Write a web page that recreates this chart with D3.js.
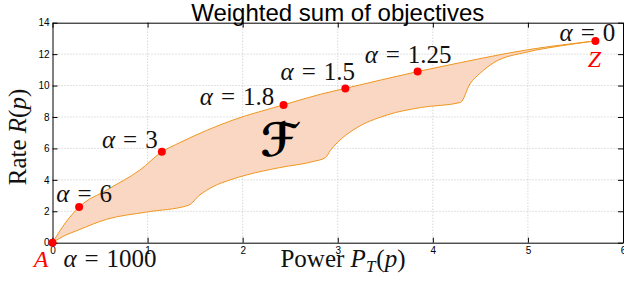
<!DOCTYPE html>
<html>
<head>
<meta charset="utf-8">
<script src="https://cdn.jsdelivr.net/npm/d3@7"></script>
<style>
  body { margin: 0; background: #fff; }
  svg { display: block; }
</style>
</head>
<body>
<div id="chart"></div>
<script>

// upper boundary (weighted sum optimum points) and lower boundary of the feasible set
var power_upper = [0, 0.14, 0.28, 0.57, 0.92, 1.15, 1.34, 1.90, 2.43, 2.82, 3.08, 3.84, 4.29, 4.99, 5.71]
var rate_upper = [0, 1.30, 2.27, 3.35, 4.63, 5.78, 6.37, 7.81, 8.77, 9.45, 9.82, 10.89, 11.46, 12.27, 12.84]

var power_lower = [0, 0.08, 0.29, 0.57, 0.99, 1.43, 1.55, 1.69, 1.87, 2.04, 2.39, 2.75, 2.87, 2.92, 3.00, 3.17, 3.52, 3.87, 4.29, 4.39, 4.50, 4.64, 4.99, 5.34, 5.71]
var rate_lower = [0, 0.30, 0.85, 1.49, 1.95, 2.38, 3.04, 3.57, 4.00, 4.31, 4.78, 5.18, 5.41, 5.85, 6.40, 7.20, 8.13, 8.60, 8.92, 10.10, 10.80, 11.45, 12.13, 12.52, 12.84]

// labelled points
var alpha_values = ['1000', '6', '3', '1.8', '1.5', '1.25', '0']
var alpha_power = [0, 0.28, 1.15, 2.43, 3.08, 3.84, 5.71]
var alpha_rate = [0, 2.27, 5.78, 8.77, 9.82, 10.89, 12.84]

var x_ticks = [0, 1, 2, 3, 4, 5, 6]
var y_ticks = [0, 2, 4, 6, 8, 10, 12, 14]

var width = 624
var height = 284
var margin = { top: 22.7, right: 1, bottom: 41.3, left: 52.5 }

var svg = d3.select('#chart').append('svg')
  .attr('width', width)
  .attr('height', height)

var x = d3.scaleLinear().domain([0, 6]).range([margin.left, width - margin.right])
var y = d3.scaleLinear().domain([0, 14]).range([height - margin.bottom, margin.top])

var serif = '"Liberation Serif", "DejaVu Serif", serif'
var sans = '"Liberation Sans", Arial, sans-serif'

// grid
var grid = svg.append('g').attr('class', 'grid')
grid.selectAll('line.gx')
  .data(x_ticks.slice(1, -1))
  .enter().append('line')
  .attr('x1', function(d) { return x(d) })
  .attr('x2', function(d) { return x(d) })
  .attr('y1', y(0))
  .attr('y2', y(14))
grid.selectAll('line.gy')
  .data(y_ticks.slice(1, -1))
  .enter().append('line')
  .attr('x1', x(0))
  .attr('x2', x(6))
  .attr('y1', function(d) { return y(d) })
  .attr('y2', function(d) { return y(d) })
grid.selectAll('line')
  .attr('stroke', '#c4c4c4')
  .attr('stroke-width', 1)
  .attr('stroke-dasharray', '1,2')

// feasible region
var upper = power_upper.map(function(p, i) { return [p, rate_upper[i]] })
var lower = power_lower.map(function(p, i) { return [p, rate_lower[i]] })

var line = d3.line()
  .x(function(d) { return x(d[0]) })
  .y(function(d) { return y(d[1]) })
  .curve(d3.curveMonotoneX)

svg.append('path')
  .attr('d', line(upper) + line(lower.slice().reverse()).replace('M', 'L') + 'Z')
  .attr('fill', '#fad7c3')
  .attr('stroke', 'none')

;[upper, lower].forEach(function(pts) {
  svg.append('path')
    .attr('d', line(pts))
    .attr('fill', 'none')
    .attr('stroke', '#f0961e')
    .attr('stroke-width', 1)
})

// axes, ticks pointing inward on all four sides
svg.append('g')
  .attr('transform', 'translate(0,' + y(0) + ')')
  .call(d3.axisBottom(x).tickValues(x_ticks).tickFormat(d3.format('d')).tickSize(-5).tickSizeOuter(0).tickPadding(4))
svg.append('g')
  .attr('transform', 'translate(' + x(0) + ',0)')
  .call(d3.axisLeft(y).tickValues(y_ticks).tickFormat(d3.format('d')).tickSize(-5).tickSizeOuter(0).tickPadding(3))
svg.append('g')
  .attr('transform', 'translate(0,' + y(14) + ')')
  .call(d3.axisTop(x).tickValues(x_ticks).tickSize(-5).tickSizeOuter(0).tickFormat(''))
svg.append('g')
  .attr('transform', 'translate(' + x(6) + ',0)')
  .call(d3.axisRight(y).tickValues(y_ticks).tickSize(-5).tickSizeOuter(0).tickFormat(''))

svg.selectAll('.tick text')
  .style('font-family', sans)
  .style('font-size', '10px')
  .attr('fill', '#000')
svg.selectAll('.domain, .tick line').attr('stroke', '#000')

// points
svg.selectAll('circle.pt')
  .data(alpha_values)
  .enter().append('circle')
  .attr('cx', function(d, i) { return x(alpha_power[i]) })
  .attr('cy', function(d, i) { return y(alpha_rate[i]) })
  .attr('r', 4)
  .attr('fill', '#ff0000')

// alpha labels, centred at an offset from their point
var label_offset = {
  '1000': [57.5, 24.5],
  '6': [5, -5],
  '3': [-32, -4],
  '1.8': [-46.5, 0],
  '1.5': [-27.5, -8],
  '1.25': [-9.5, -9],
  '0': [-8, 0]
}

alpha_values.forEach(function(v, i) {
  var t = svg.append('text')
    .attr('x', x(alpha_power[i]) + label_offset[v][0])
    .attr('y', y(alpha_rate[i]) + label_offset[v][1])
    .attr('text-anchor', 'middle')
    .style('font-family', serif)
    .style('font-size', '25px')
    .attr('fill', '#111')
  t.append('tspan').style('font-style', 'italic').text('α')
  t.append('tspan').attr('dx', 8).text('=')
  t.append('tspan').attr('dx', 8).text(v)
})

// end points A and Z
svg.append('text')
  .attr('x', x(0) - 11.5)
  .attr('y', y(0) + 24.5)
  .attr('text-anchor', 'middle')
  .style('font-family', serif)
  .style('font-style', 'italic')
  .style('font-size', '24px')
  .attr('fill', '#ff0000')
  .text('A')
svg.append('text')
  .attr('x', x(5.71) - 1)
  .attr('y', y(12.84) + 26)
  .attr('text-anchor', 'middle')
  .style('font-family', serif)
  .style('font-style', 'italic')
  .style('font-size', '24px')
  .attr('fill', '#ff0000')
  .text('Z')

// feasible set symbol
svg.append('text')
  .attr('x', x(2.38))
  .attr('y', y(5.5))
  .attr('text-anchor', 'middle')
  .style('font-family', '"DejaVu Sans", sans-serif')
  .style('font-size', '46px')
  .style('font-weight', 'bold')
  .attr('fill', '#000')
  .text('ℱ')

// title
svg.append('text')
  .attr('x', (x(0) + x(6)) / 2)
  .attr('y', 21)
  .attr('text-anchor', 'middle')
  .style('font-family', sans)
  .style('font-size', '24px')
  .attr('fill', '#000')
  .text('Weighted sum of objectives')

// axis labels
var xl = svg.append('text')
  .attr('x', 343)
  .attr('y', 267)
  .attr('text-anchor', 'middle')
  .style('font-family', serif)
  .style('font-size', '25px')
  .attr('fill', '#111')
xl.append('tspan').text('Power ')
xl.append('tspan').style('font-style', 'italic').text('P')
xl.append('tspan').style('font-style', 'italic').style('font-size', '17px').attr('dy', 5).text('T')
xl.append('tspan').attr('dy', -5).attr('dx', 1).text('(')
xl.append('tspan').style('font-style', 'italic').text('p')
xl.append('tspan').text(')')

var yl = svg.append('text')
  .attr('transform', 'translate(26,137) rotate(-90)')
  .attr('text-anchor', 'middle')
  .style('font-family', serif)
  .style('font-size', '25px')
  .attr('fill', '#111')
yl.append('tspan').text('Rate ')
yl.append('tspan').style('font-style', 'italic').text('R')
yl.append('tspan').text('(')
yl.append('tspan').style('font-style', 'italic').text('p')
yl.append('tspan').text(')')

</script>
</body>
</html>
